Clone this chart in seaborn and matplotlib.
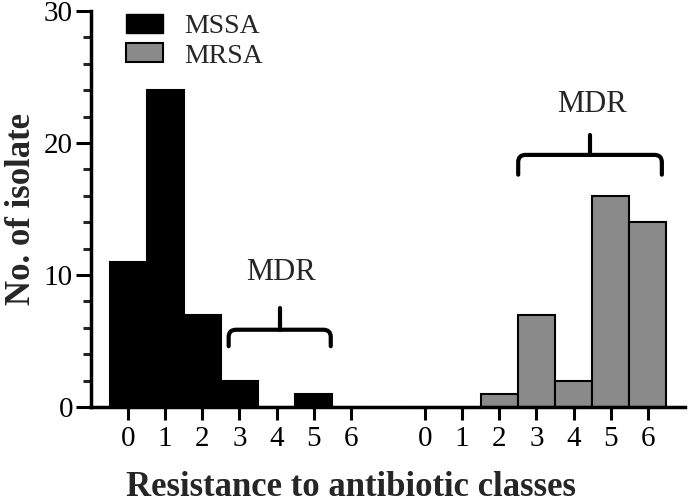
import pandas as pd
import seaborn as sns
import matplotlib.pyplot as plt
from matplotlib.patches import Patch, PathPatch
from matplotlib.path import Path

# data
classes = [0, 1, 2, 3, 4, 5, 6]
mssa = [11, 24, 7, 2, 0, 1, 0]
mrsa = [0, 0, 1, 7, 2, 16, 14]
groups = ["MSSA", "MRSA"]
offset = 8  # MRSA block sits 8 units to the right

pos = classes + [c + offset for c in classes]
df = pd.DataFrame({
    "pos": pos,
    "count": mssa + mrsa,
    "group": ["MSSA"] * len(classes) + ["MRSA"] * len(classes),
})

sns.set_style("ticks")
plt.rcParams["font.family"] = ["Liberation Serif", "DejaVu Serif"]

fig = plt.figure(figsize=(6.89, 5.03), dpi=100)
ax = fig.add_axes([0.132, 0.191, 0.862, 0.787])

sns.barplot(data=df, x="pos", y="count", hue="group", native_scale=True,
            dodge=False, width=1, palette={"MSSA": "black", "MRSA": "#8a8a8a"},
            edgecolor="black", linewidth=1.5, legend=False, ax=ax)

ax.set_xlim(-1, 15)
ax.set_ylim(0, 30)
ax.set_xticks(pos)
ax.set_xticklabels([str(c) for c in classes] * 2)
ax.set_yticks([0, 10, 20, 30])
ax.set_yticks(range(0, 31, 2), minor=True)
ax.tick_params(axis="both", labelsize=21, width=2.2, color="black", labelcolor="black")
ax.tick_params(axis="y", which="major", length=11, pad=2)
ax.tick_params(axis="y", which="minor", length=6, width=2.2)
ax.tick_params(axis="x", length=9, pad=5)

sns.despine(ax=ax)
for s in ["left", "bottom"]:
    ax.spines[s].set_linewidth(2.5)
    ax.spines[s].set_color("black")

ax.set_xlabel("Resistance to antibiotic classes", fontsize=25, fontweight="bold", va="center")
ax.xaxis.set_label_coords(0.438, -0.203)
ax.set_ylabel("No. of isolate", fontsize=25, fontweight="bold", labelpad=4)

handles = [Patch(facecolor="black", edgecolor="black", label="MSSA"),
           Patch(facecolor="#8a8a8a", edgecolor="black", linewidth=1.5, label="MRSA")]
ax.legend(handles=handles, loc="upper left", bbox_to_anchor=(0.017, 1.055), frameon=False,
          fontsize=20, handlelength=1.33, handleheight=0.65, handletextpad=0.75,
          labelspacing=0.15)


def brace(x0, x1, ybot, ymid, ytop, rx=0.2, ry=0.55):
    xc = (x0 + x1) / 2
    verts = [(x0, ybot), (x0, ymid - ry), (x0, ymid), (x0 + rx, ymid),
             (x1 - rx, ymid), (x1, ymid), (x1, ymid - ry), (x1, ybot)]
    codes = [Path.MOVETO, Path.LINETO, Path.CURVE3, Path.CURVE3,
             Path.LINETO, Path.CURVE3, Path.CURVE3, Path.LINETO]
    ax.add_patch(PathPatch(Path(verts, codes), fill=False, lw=3, color="black",
                           capstyle="round", joinstyle="round"))
    ax.plot([xc, xc], [ymid, ytop], color="black", lw=3, solid_capstyle="round")


brace(2.71, 5.46, 4.6, 5.85, 7.5)
ax.text(4.12, 10.2, "MDR", fontsize=22, ha="center", va="center")
brace(10.51, 14.38, 17.6, 19.1, 20.6)
ax.text(12.5, 22.9, "MDR", fontsize=22, ha="center", va="center")

fig.savefig("out.png", dpi=100)
